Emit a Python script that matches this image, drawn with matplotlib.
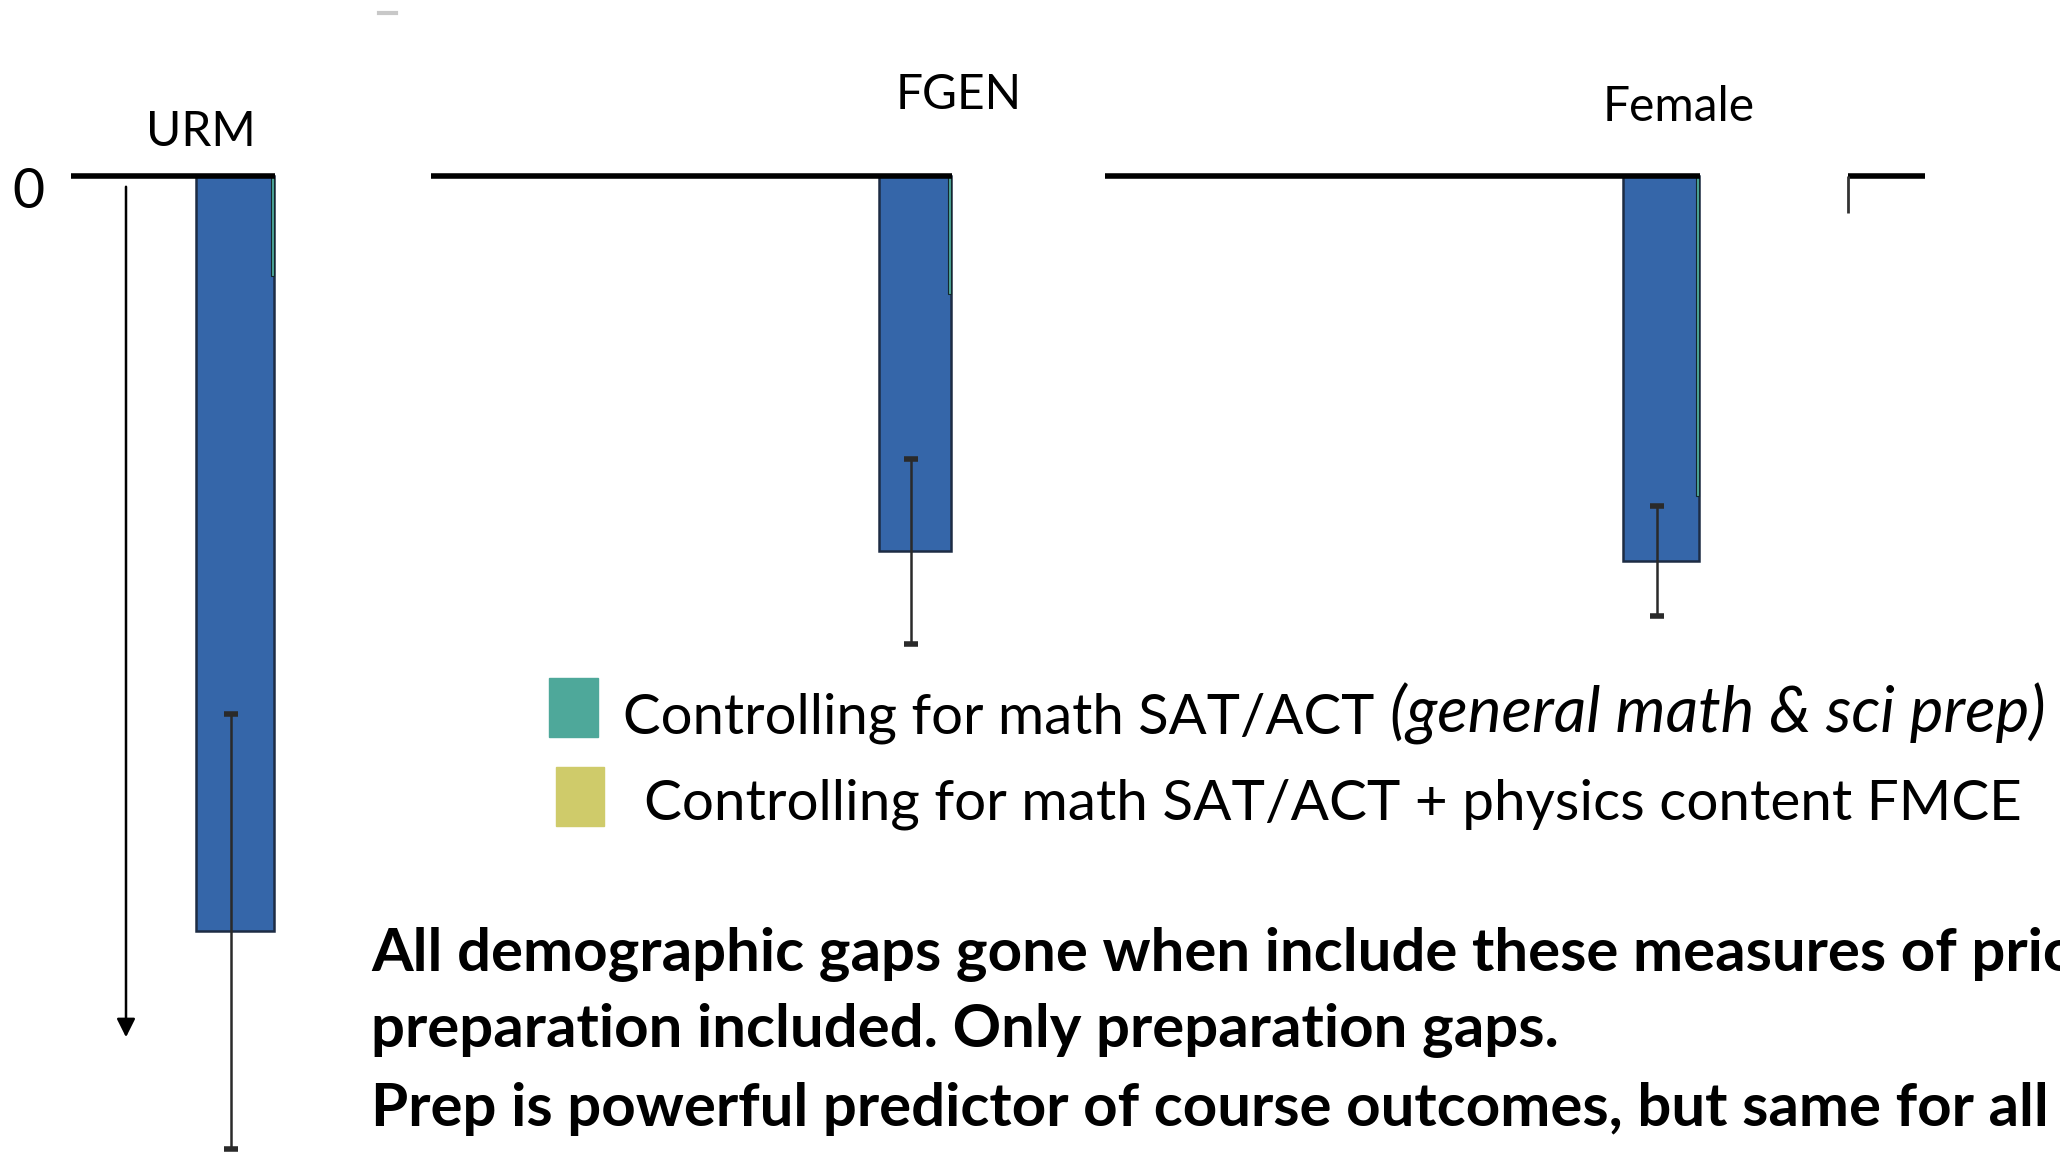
import matplotlib.pyplot as plt

plt.rcParams['font.family'] = ['Lato', 'DejaVu Sans']

W, H = 2060, 1153          # output size in px (dpi 100)
PX_PER_UNIT = 2500.0       # vertical scale of the bar axes
ZERO_PX = 176              # y pixel of the zero line

# --- data -------------------------------------------------------------
groups = ['URM', 'FGEN', 'Female']
gap_raw = [-0.302, -0.150, -0.154]        # blue bars, no controls
gap_raw_err = [0.087, 0.037, 0.022]
gap_math = [-0.040, -0.047, -0.128]       # teal, mostly hidden sliver
legend_labels = ['Controlling for math SAT/ACT',
                 '(general math & sci prep)',
                 'Controlling for math SAT/ACT + physics content FMCE']
notes = ['All demographic gaps gone when include these measures of prior',
         'preparation included. Only preparation gaps.',
         'Prep is powerful predictor of course outcomes, but same for all students.']

# --- layout (pixels) --------------------------------------------------
bar_x = [235, 915, 1661]
bar_w = [78, 72, 76]
label_xy = [(201, 146), (959, 109), (1679, 121)]
zero_segments = [(71, 275), (431, 952), (1105, 1700), (1848, 1925)]

fig = plt.figure(figsize=(W / 100, H / 100), dpi=100)

ax = fig.add_axes([0, 0, 1, 1])
ax.set_xlim(0, W)
ax.set_ylim(-(H - ZERO_PX) / PX_PER_UNIT, ZERO_PX / PX_PER_UNIT)
ax.axis('off')

pix = fig.add_axes([0, 0, 1, 1], zorder=5)
pix.set_xlim(0, W)
pix.set_ylim(H, 0)
pix.axis('off')
pix.patch.set_alpha(0)

# bars
ax.bar(bar_x, gap_raw, width=bar_w, color='#3566a9',
       edgecolor='#1d2c44', linewidth=1.8, zorder=2)
sliver_x = [x + w / 2 - 2 for x, w in zip(bar_x, bar_w)]
ax.bar(sliver_x, gap_math, width=3, color='#4ea89a',
       edgecolor='#13282c', linewidth=0.8, zorder=3)
ax.errorbar([x - 4 for x in bar_x], gap_raw, yerr=gap_raw_err, fmt='none',
            ecolor='#2a2a2a', elinewidth=1.8, capsize=5, capthick=4, zorder=4)

# zero line pieces
for x0, x1 in zero_segments:
    ax.hlines(0, x0, x1, color='black', linewidth=4, zorder=5)
ax.vlines(1848, -37 / PX_PER_UNIT, 0, color='#333333', linewidth=2, zorder=5)

# down arrow on the left
pix.annotate('', xy=(126, 1040), xytext=(126, 184),
             arrowprops=dict(arrowstyle='-|>', mutation_scale=28,
                             lw=1.8, color='black'))

# small grey dash at the top
pix.plot([379, 396], [13, 13], color='#c8c8c8', linewidth=3)

# texts
pix.text(12, 208, '0', fontsize=40, va='baseline')
for (lx, ly), g in zip(label_xy, groups):
    pix.text(lx, ly, g, fontsize=34.5, ha='center', va='baseline')

# legend
pix.add_patch(plt.Rectangle((549, 678), 49, 59, color='#4ea89a'))
pix.add_patch(plt.Rectangle((556, 767), 48, 59, color='#cfcb6a'))
t1 = pix.text(623, 733, legend_labels[0], fontsize=40.5, va='baseline')
fig.canvas.draw()
bb = t1.get_window_extent()
x_end = pix.transData.inverted().transform((bb.x1, bb.y0))[0]
pix.text(x_end + 16, 733, legend_labels[1], fontsize=45.8,
         style='italic', va='baseline')
pix.text(644, 820, legend_labels[2], fontsize=40.8, va='baseline')

for y, line in zip([971, 1047, 1126], notes):
    pix.text(371, y, line, fontsize=43.2, fontweight='bold', va='baseline')

fig.savefig('out.png', dpi=100)
